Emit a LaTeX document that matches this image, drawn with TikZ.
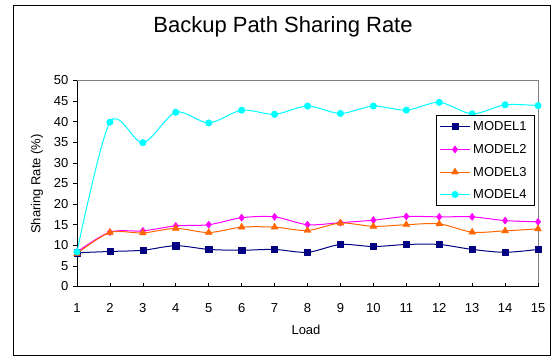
\documentclass[tikz,border=0pt]{standalone}
\usepackage{fontspec}
\setmainfont{Liberation Sans}
\usetikzlibrary{plotmarks}
\definecolor{mnavy}{RGB}{0,0,128}
\definecolor{mpink}{RGB}{255,0,255}
\definecolor{morange}{RGB}{255,102,0}
\definecolor{mcyan}{RGB}{0,255,255}
\definecolor{framegray}{RGB}{128,128,128}

\begin{document}
\begin{tikzpicture}[x=1pt,y=-1pt,
  lbl/.style={font=\fontsize{13}{15}\selectfont, inner sep=0pt},
  series/.style={line width=1pt, line join=round},
  s1/.style={series, mnavy, mark=square*, mark size=3.1pt, mark options={solid, fill=mnavy, line width=0.4pt}},
  s2/.style={series, mpink, mark=diamond*, mark size=3.6pt, mark options={solid, fill=mpink, line width=0.4pt}},
  s3/.style={series, morange, mark=triangle*, mark size=4pt, mark options={solid, fill=morange, line width=0.4pt}},
  s4/.style={series, mcyan, mark=*, mark size=3.3pt, mark options={solid, fill=mcyan, line width=0.4pt}}
]
\useasboundingbox (0,0) rectangle (552,356);

% chart frame
\draw[line width=1pt] (13,5) rectangle (550.5,355);

% title
\node (title) at (283,27) {\fontsize{22}{26}\selectfont Backup Path Sharing Rate};

% plot area
\draw[framegray, line width=0.8pt] (77,286.5) -- (77,80.5) -- (538,80.5) -- (538,286.5);
\draw[black, line width=1pt] (77,80.5) -- (77,286.5) -- (538,286.5);

% y axis ticks and labels
\foreach \v in {0,5,...,50} {
  \draw[line width=0.7pt] (73,{286.5-4.12*\v}) -- (77,{286.5-4.12*\v});
  \node[lbl, anchor=east] (ytick\v) at (68.5,{286.5-4.12*\v}) {\v};
}
% x axis ticks and labels
\foreach \i in {1,...,15} {
  \draw[line width=0.7pt] ({77+32.93*(\i-1)},286.5) -- ({77+32.93*(\i-1)},282.5);
  \node[lbl] (xtick\i) at ({77+32.93*(\i-1)},308) {\i};
}

% axis titles
\node[lbl, rotate=90] (ylabel) at (37,184) {Sharing Rate (\%)};
\node[lbl] (xlabel) at (306,330) {Load};

% data series
\begin{scope}[shift={(44.07,286.5)}, x=32.93pt, y=4.12pt]
\draw[s1] plot[smooth, tension=0.5] coordinates {
  (1,8.2) (2,8.5) (3,8.8) (4,9.9) (5,9.0) (6,8.8) (7,9.0) (8,8.3)
  (9,10.2) (10,9.7) (11,10.2) (12,10.2) (13,9.0) (14,8.3) (15,9.0)};
\draw[s2] plot[smooth, tension=0.5] coordinates {
  (1,8.4) (2,13.2) (3,13.5) (4,14.7) (5,15.0) (6,16.7) (7,16.9) (8,15.0)
  (9,15.5) (10,16.1) (11,17.0) (12,16.9) (13,16.9) (14,16.0) (15,15.7)};
\draw[s3] plot[smooth, tension=0.5] coordinates {
  (1,8.0) (2,13.1) (3,13.0) (4,14.1) (5,13.1) (6,14.4) (7,14.4) (8,13.6)
  (9,15.4) (10,14.6) (11,15.0) (12,15.2) (13,13.2) (14,13.5) (15,14.0)};
\draw[s4] plot[smooth, tension=0.5] coordinates {
  (1,8.4) (2,39.9) (3,34.9) (4,42.3) (5,39.7) (6,42.8) (7,41.8) (8,43.8)
  (9,42.0) (10,43.8) (11,42.8) (12,44.7) (13,41.9) (14,44.1) (15,43.9)};
\end{scope}

% legend
\draw[line width=1pt, fill=white] (436,115) rectangle (534,205);
\foreach \k/\yy in {1/126.5, 2/149.5, 3/172, 4/194.5} {
  \draw[s\k] (440,\yy) -- (470,\yy);
  \path[s\k] plot[only marks] coordinates {(455,\yy)};
  \node[lbl, anchor=west] (legend\k) at (473,\yy) {MODEL\k};
}
\end{tikzpicture}
\end{document}
